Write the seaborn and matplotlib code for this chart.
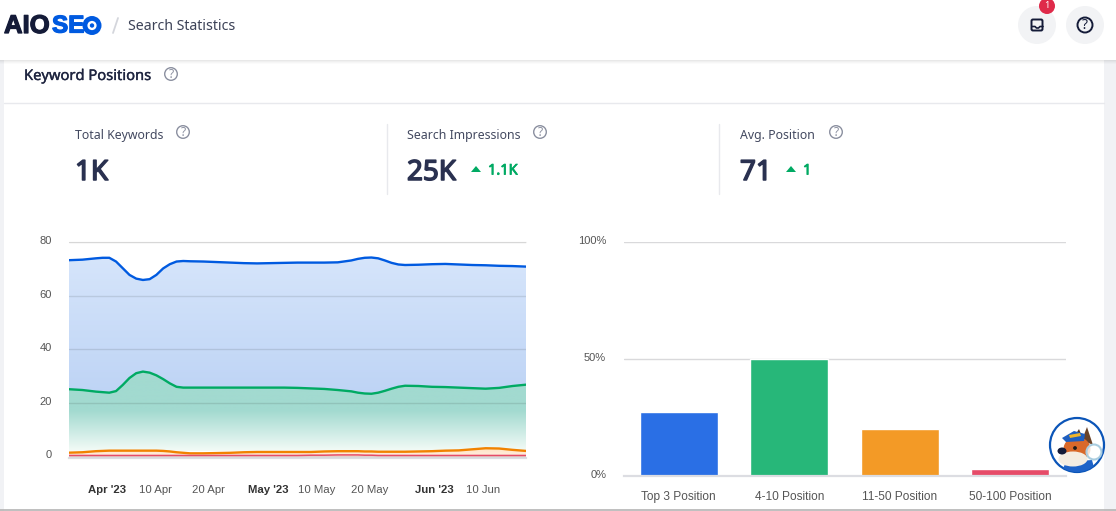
import matplotlib
matplotlib.use("Agg")
import matplotlib.pyplot as plt
import matplotlib.dates as mdates
import matplotlib.patheffects as pe
from matplotlib.colors import LinearSegmentedColormap
from matplotlib.patches import Circle, Ellipse, Polygon, Rectangle, FancyBboxPatch
from matplotlib.transforms import ScaledTranslation
import numpy as np
import pandas as pd
import seaborn as sns

# ====================
# DATA
# ====================
# days since 25 Mar 2023, read closer together where the lines bend
day_offsets = [0, 2.5, 5, 6.25, 7.5, 8.75, 10, 11.25, 12.5, 13.75, 15, 16.25, 17.5, 18.75, 20, 21.25, 22.5,
               25, 27.5, 30, 32.5, 35, 37.5, 40, 42.5, 45, 47.5,
               50, 52.5, 53.75, 55, 56.25, 57.5, 58.75, 60, 61.25, 62.5,
               65, 67.5, 70, 72.5, 75, 77.5, 80, 82.5, 85]
dates = pd.Timestamp("2023-03-25") + pd.to_timedelta(day_offsets, unit="D")

top3 = [73.3, 73.5, 74.0, 74.2, 74.2, 72.8, 70.3, 67.8, 66.4, 65.9, 66.2, 67.8, 70.2, 71.8, 72.8, 73.0, 72.9,
        72.8, 72.6, 72.4, 72.2, 72.1, 72.2, 72.3, 72.4, 72.4, 72.4,
        72.5, 73.2, 73.8, 74.2, 74.3, 74.0, 73.2, 72.3, 71.7, 71.5,
        71.6, 71.8, 71.9, 71.7, 71.5, 71.4, 71.2, 71.1, 70.9]
pos_4_10 = [25.0, 24.7, 24.1, 23.9, 23.7, 24.3, 26.6, 29.2, 31.0, 31.6, 31.2, 30.2, 28.8, 27.2, 25.9, 25.6, 25.6,
            25.6, 25.6, 25.6, 25.6, 25.6, 25.6, 25.6, 25.5, 25.3, 25.1,
            24.7, 24.2, 23.7, 23.4, 23.3, 23.7, 24.4, 25.2, 25.9, 26.3,
            26.2, 25.9, 25.8, 25.6, 25.4, 25.2, 25.5, 26.2, 26.7]
pos_11_50 = [1.25, 1.4, 1.8, 1.9, 2.0, 2.0, 2.0, 2.0, 2.0, 2.0, 2.0, 2.0, 1.9, 1.7, 1.4, 1.2, 1.0,
             1.0, 1.1, 1.2, 1.4, 1.5, 1.5, 1.5, 1.5, 1.5, 1.7,
             1.8, 1.8, 1.8, 1.7, 1.7, 1.6, 1.6, 1.6, 1.6, 1.6,
             1.7, 1.8, 2.0, 2.1, 2.5, 2.9, 2.8, 2.3, 1.9]
pos_50_100 = [0.2, 0.2, 0.2, 0.2, 0.2, 0.2, 0.2, 0.2, 0.2, 0.2, 0.2, 0.2, 0.2, 0.2, 0.2, 0.2, 0.2,
              0.2, 0.2, 0.2, 0.2, 0.2, 0.2, 0.2, 0.2, 0.3, 0.3,
              0.4, 0.4, 0.4, 0.3, 0.3, 0.2, 0.2, 0.2, 0.2, 0.2,
              0.2, 0.2, 0.2, 0.2, 0.2, 0.2, 0.2, 0.2, 0.2]

date_ticks = ["2023-04-01", "2023-04-10", "2023-04-20", "2023-05-01",
              "2023-05-10", "2023-05-20", "2023-06-01", "2023-06-10"]
date_labels = ["Apr '23", "10 Apr", "20 Apr", "May '23", "10 May", "20 May", "Jun '23", "10 Jun"]
month_labels = ["Apr '23", "May '23", "Jun '23"]
line_ticks = [0, 20, 40, 60, 80]

positions = ["Top 3 Position", "4-10 Position", "11-50 Position", "50-100 Position"]
shares = [27.2, 50, 20.3, 2.8]
share_ticks = [0, 50, 100]
share_labels = ["0%", "50%", "100%"]

BLUE = "#005AE0"
GREEN = "#00AA63"
ORANGE = "#F18200"
RED = "#E64B68"
bar_colors = ["#2A6FE5", "#27B779", "#F39A26", "#E64B68"]

W, H = 1116, 511
UI_FONT = "Noto Sans"
CHART_FONT = "Liberation Sans"

sns.set_theme(style="white")
plt.rcParams["font.family"] = [UI_FONT, "DejaVu Sans"]

fig = plt.figure(figsize=(W / 100, H / 100), dpi=100, facecolor="white")


def px_axes(left, right, top, bottom, zorder):
    return fig.add_axes([left / W, (H - bottom) / H, (right - left) / W, (bottom - top) / H],
                        zorder=zorder, facecolor="none")


def shift_up(labels, px):
    for lab in labels:
        lab.set_transform(lab.get_transform() + ScaledTranslation(0, px / 100, fig.dpi_scale_trans))


def heavy(color, width):
    # installed Noto Sans has no bold cut here, so thicken the outline
    return [pe.withStroke(linewidth=width, foreground=color)]


# ====================
# PAGE (pixel coordinates)
# ====================
bg = fig.add_axes([0, 0, 1, 1], zorder=0)
bg.set_xlim(0, W)
bg.set_ylim(H, 0)
bg.axis("off")

bg.add_patch(Rectangle((0, 60), 4, H - 60, color="#f1f2f5", lw=0))
bg.add_patch(Rectangle((1104, 60), 12, H - 60, color="#f1f2f5", lw=0))
for i, a in enumerate([0.09, 0.06, 0.035, 0.015]):
    bg.add_patch(Rectangle((0, 60 + i), W, 1, color="black", alpha=a, lw=0))
bg.plot([4, 1104], [103.5, 103.5], color="#e8e9ed", lw=1)
bg.plot([387, 387], [124, 194], color="#e8e9ed", lw=1)
bg.plot([719, 719], [124, 194], color="#e8e9ed", lw=1)
bg.plot([0, W], [510.5, 510.5], color="#b4b4b4", lw=1.2)

# logo
bg.text(4, 26, "AIO", color="#141B38", fontsize=18.5, fontweight="bold", va="center", family=CHART_FONT,
        path_effects=heavy("#141B38", 0.9))
bg.text(52, 26, "SE", color=BLUE, fontsize=17.5, fontweight="bold", va="center", family=CHART_FONT,
        path_effects=heavy(BLUE, 0.9))
bg.add_patch(Circle((92, 25.5), 9.5, color=BLUE, lw=0))
bg.add_patch(Circle((92, 25.5), 4.6, color="white", lw=0))
bg.add_patch(Circle((92, 25.5), 2.2, color=BLUE, lw=0))
bg.plot([113, 118], [33, 18], color="#d4d6dc", lw=1.3)
bg.text(128, 27, "Search Statistics", color="#3c4257", fontsize=10.2, va="center")

bg.text(24, 76.5, "Keyword Positions", color="#1f2540", fontsize=10.6, va="center",
        path_effects=heavy("#1f2540", 0.25))


def help_icon(x, y, r=6.3, color="#8b90a0", size=8.5, lw=1):
    bg.add_patch(Circle((x, y), r, fc="none", ec=color, lw=lw))
    bg.text(x, y + 0.5, "?", color=color, fontsize=size, ha="center", va="center")


help_icon(171, 74)
help_icon(183, 132)
help_icon(540, 132)
help_icon(836, 132)

# stat tiles
for x, label in [(75, "Total Keywords"), (407, "Search Impressions"), (740, "Avg. Position")]:
    bg.text(x, 135.5, label, color="#434960", fontsize=8.85, va="center")
for x, value in [(75, "1K"), (407, "25K"), (740, "71")]:
    bg.text(x, 173, value, color="#2a3150", fontsize=20, va="center", path_effects=heavy("#2a3150", 1.1))
for x, delta, tx in [(476, "1.1K", 488), (791, "1", 803)]:
    bg.add_patch(Polygon([(x - 5, 172), (x + 5, 172), (x, 166)], color=GREEN, lw=0))
    bg.text(tx, 171, delta, color=GREEN, fontsize=10.5, va="center", path_effects=heavy(GREEN, 0.6))

# header buttons
bg.add_patch(Circle((1037, 25), 19, color="#f2f3f5", lw=0))
bg.add_patch(Circle((1085, 25), 19, color="#f2f3f5", lw=0))
bg.add_patch(FancyBboxPatch((1031.5, 19.5), 11, 11, boxstyle="round,pad=0,rounding_size=1.5",
                            fc="none", ec="#141B38", lw=1.4))
bg.plot([1032, 1035, 1036.5, 1038.5, 1040, 1043], [26.5, 26.5, 28, 28, 26.5, 26.5], color="#141B38", lw=1.2)
help_icon(1085, 25, r=7.5, color="#141B38", size=10, lw=1.4)
bg.add_patch(Circle((1047, 6), 8, color="#DF2A4A", lw=0))
bg.text(1047, 6, "1", color="white", fontsize=6.5, fontweight="bold", ha="center", va="center")


# ====================
# AREA CHART
# ====================
def gradient_band(ax, lower, upper, colors, y_top, y_bottom, zorder=1):
    poly = ax.fill_between(dates, lower, upper, facecolor="none", lw=0)
    cmap = LinearSegmentedColormap.from_list("band", colors)
    x0, x1 = mdates.date2num(dates[0]), mdates.date2num(dates[-1])
    grad = np.linspace(0, 1, 256).reshape(-1, 1)
    im = ax.imshow(grad, cmap=cmap, extent=[x0, x1, y_bottom, y_top], aspect="auto",
                   origin="upper", zorder=zorder)
    im.set_clip_path(poly.get_paths()[0], transform=ax.transData)


ax1 = px_axes(69, 526, 242.3, 458, 2)

floor = [-0.75] * len(dates)
gradient_band(ax1, pos_4_10, top3, ["#D6E5FB", "#BED4F5"], 75, 23)
gradient_band(ax1, pos_11_50, pos_4_10, ["#A2DAD0", "#A2DAD0", "#F3FBF7"], 32, 2)
gradient_band(ax1, floor, pos_11_50, ["#FFE2BE", "#FFF0E8"], 3, -0.75)

for values, color, width in [(top3, BLUE, 1.7), (pos_4_10, GREEN, 1.7),
                             (pos_11_50, ORANGE, 1.7), (pos_50_100, RED, 1.1)]:
    sns.lineplot(x=dates, y=values, color=color, linewidth=width, estimator=None,
                 ax=ax1, zorder=3, solid_joinstyle="round")

ax1.set_xlim(dates[0], dates[-1])
ax1.set_ylim(-0.75, 80)
ax1.set_axisbelow(False)
ax1.set_yticks(line_ticks)
ax1.set_yticklabels([str(v) for v in line_ticks])
ax1.set_xticks(pd.to_datetime(date_ticks))
ax1.set_xticklabels(date_labels)
ax1.grid(axis="y", color="black", alpha=0.1, lw=1, zorder=2)
ax1.grid(axis="x", visible=False)
ax1.axhline(80, color="black", alpha=0.06, lw=1, clip_on=False, zorder=2)
ax1.set_xlabel("")
ax1.set_ylabel("")
sns.despine(ax=ax1, left=True, top=True, right=True)
ax1.spines["bottom"].set_color("#dcdde2")
ax1.spines["bottom"].set_linewidth(1.6)
ax1.tick_params(axis="x", length=8, width=1, color="#e2e2e2", pad=11.2, labelsize=8.2, labelcolor="#555555")
ax1.tick_params(axis="y", length=0, pad=12.5, labelsize=8, labelcolor="#555555")
for lab in ax1.get_xticklabels():
    lab.set_family(CHART_FONT)
    if lab.get_text() in month_labels:
        lab.set_fontweight("bold")
        lab.set_color("#333333")
for lab in ax1.get_yticklabels():
    lab.set_family(CHART_FONT)
shift_up(ax1.get_yticklabels(), 2)

# ====================
# BAR CHART
# ====================
ax2 = px_axes(623.5, 1065.5, 242.3, 476, 2)
sns.barplot(x=positions, y=shares, hue=positions, order=positions, hue_order=positions,
            palette=bar_colors, legend=False, width=0.705, saturation=1, ax=ax2, zorder=2)
ax2.set_xlim(-0.5, 3.5)
ax2.set_ylim(0, 100)
ax2.set_yticks(share_ticks)
ax2.set_yticklabels(share_labels)
ax2.grid(axis="y", color="#d9d9db", lw=1, zorder=0)
ax2.set_axisbelow(True)
ax2.set_xlabel("")
ax2.set_ylabel("")
sns.despine(ax=ax2, left=True, top=True, right=True)
ax2.spines["bottom"].set_color("#dcdde2")
ax2.spines["bottom"].set_linewidth(1.6)
ax2.set_xticks([-0.5, 0.5, 1.5, 2.5, 3.5], minor=True)
ax2.tick_params(axis="x", which="minor", length=5, width=1, color="#dcdde2")
ax2.tick_params(axis="x", which="major", length=0, pad=10.6, labelsize=8.6, labelcolor="#555555")
ax2.tick_params(axis="y", length=0, pad=12.5, labelsize=8, labelcolor="#555555")
for lab in ax2.get_xticklabels() + ax2.get_yticklabels():
    lab.set_family(CHART_FONT)
shift_up(ax2.get_yticklabels(), 2)

# ====================
# MASCOT BADGE
# ====================
fg = fig.add_axes([0, 0, 1, 1], zorder=5, facecolor="none")
fg.set_xlim(0, W)
fg.set_ylim(H, 0)
fg.axis("off")
ring = Circle((1077, 445), 27, fc="white", ec="#0B55B8", lw=1.6, zorder=1)
fg.add_patch(ring)
dog_parts = [
    Polygon([(1066, 462), (1092, 460), (1096, 475), (1060, 475)], color="#1E63C8", lw=0, zorder=2),
    Polygon([(1082, 440), (1087, 427), (1093, 445)], color="#6B4226", lw=0, zorder=2),
    Polygon([(1074, 437), (1079, 429), (1084, 442)], color="#4F3320", lw=0, zorder=2),
    Ellipse((1077, 449), 27, 24, color="#D9692A", lw=0, zorder=3),
    Ellipse((1073, 459), 29, 15, color="#F4EDE2", lw=0, zorder=4),
    Polygon([(1062, 438), (1074, 431), (1085, 434), (1084, 441), (1066, 442)], color="#1E5FC0", lw=0, zorder=5),
    Polygon([(1069, 435), (1080, 433), (1081, 436), (1070, 438)], color="#F0B429", lw=0, zorder=6),
    Circle((1075, 448), 1.9, color="#1c1c1c", lw=0, zorder=6),
    Ellipse((1062, 451), 9, 7, color="#141B38", lw=0, zorder=6),
    Circle((1094, 452), 7.5, fc="#ffffffcc", ec="#A9CDE0", lw=1.5, zorder=7),
]
for part in dog_parts:
    fg.add_patch(part)
    if part.get_zorder() < 7:
        part.set_clip_path(ring)

fig.savefig("out.png", dpi=100)
